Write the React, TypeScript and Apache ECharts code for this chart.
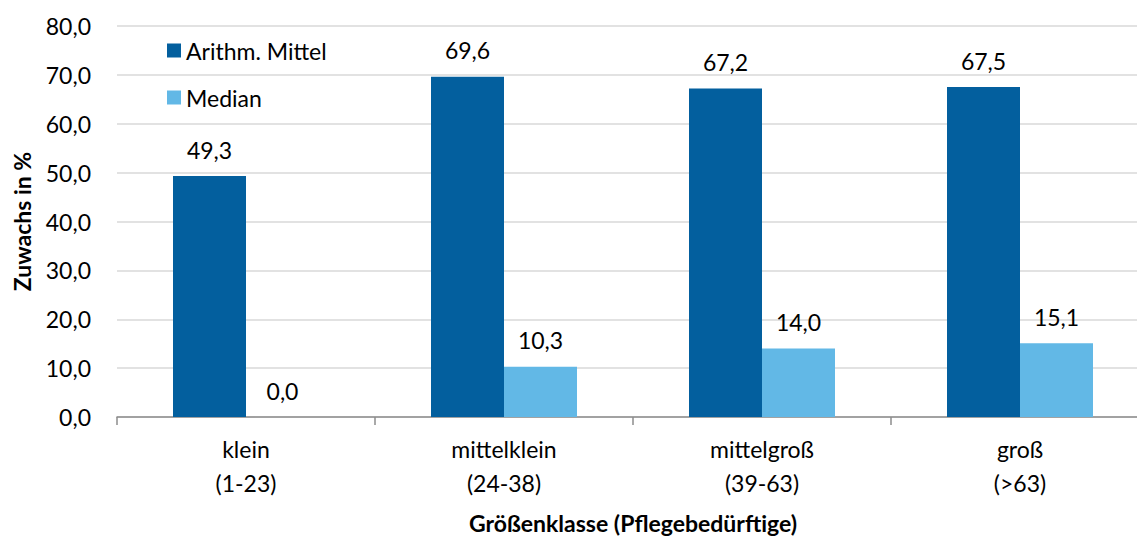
import React, { useEffect, useRef } from "react";
import * as echarts from "echarts";

// Größenklassen der Einrichtungen
const categories = ["klein\n(1-23)", "mittelklein\n(24-38)", "mittelgroß\n(39-63)", "groß\n(>63)"];
// Zuwachs in % je Größenklasse
const meanValues = [49.3, 69.6, 67.2, 67.5];
const medianValues = [0.0, 10.3, 14.0, 15.1];
const seriesNames = ["Arithm. Mittel", "Median"];

const FONT = "Lato, 'Liberation Sans', sans-serif";
const FS = 23;
const fmt = (v: number) => v.toFixed(1).replace(".", ",");

export default function App() {
  const ref = useRef<HTMLDivElement>(null);

  useEffect(() => {
    if (!ref.current) return;
    const chart = echarts.init(ref.current, undefined, { renderer: "svg" });
    const labelStyle = {
      show: true,
      position: "top" as const,
      distance: 15,
      fontSize: FS,
      fontFamily: FONT,
      color: "#000",
      formatter: (p: any) => fmt(p.value),
    };
    chart.setOption({
      animation: false,
      backgroundColor: "#fff",
      textStyle: { fontFamily: FONT },
      // the plot runs slightly past the right edge of the canvas
      grid: {
        left: 117,
        top: 26,
        height: 391,
        width: 1032,
        containLabel: false,
        outerBoundsMode: "none",
      },
      legend: {
        orient: "vertical",
        left: 162,
        top: 34,
        itemWidth: 14,
        itemHeight: 14,
        itemGap: 24,
        icon: "rect",
        textStyle: { fontSize: FS, fontFamily: FONT, color: "#000", lineHeight: 22 },
        data: seriesNames,
      },
      xAxis: {
        type: "category",
        data: categories,
        name: "Größenklasse (Pflegebedürftige)",
        nameLocation: "middle",
        nameGap: 94,
        nameTextStyle: { fontSize: FS, fontWeight: "bold", fontFamily: FONT, color: "#000" },
        axisLine: { lineStyle: { color: "#8c8c8c", width: 1.5 } },
        axisTick: { show: true, length: 8, lineStyle: { color: "#8c8c8c", width: 1.5 } },
        axisLabel: { fontSize: FS, lineHeight: 34, margin: 15, color: "#000", fontFamily: FONT },
      },
      yAxis: {
        type: "value",
        min: 0,
        max: 80,
        interval: 10,
        name: "Zuwachs in %",
        nameLocation: "middle",
        nameGap: 84,
        nameTextStyle: { fontSize: FS, fontWeight: "bold", fontFamily: FONT, color: "#000" },
        axisLine: { show: false },
        axisTick: { show: false },
        axisLabel: { fontSize: FS, margin: 26, color: "#000", fontFamily: FONT, formatter: (v: number) => fmt(v) },
        splitLine: { lineStyle: { color: "#d9d9d9", width: 1.5 } },
      },
      series: [
        {
          name: seriesNames[0],
          type: "bar",
          data: meanValues,
          barWidth: 73,
          barGap: "0%",
          itemStyle: { color: "#035f9e" },
          label: labelStyle,
        },
        {
          name: seriesNames[1],
          type: "bar",
          data: medianValues,
          barWidth: 73,
          itemStyle: { color: "#62b8e6" },
          label: labelStyle,
        },
      ],
    });
    return () => chart.dispose();
  }, []);

  return (
    <div
      ref={ref}
      style={{ position: "fixed", left: 0, top: 0, width: 1137, height: 536 }}
    />
  );
}
